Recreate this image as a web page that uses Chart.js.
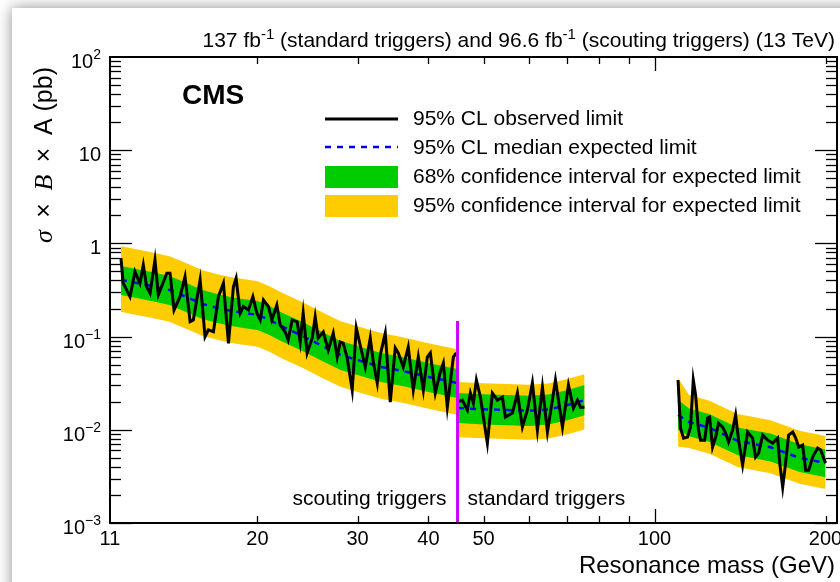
<!DOCTYPE html>
<html><head><meta charset="utf-8">
<script src="https://cdn.jsdelivr.net/npm/chart.js@4.4.1/dist/chart.umd.min.js"></script>
<style>
html,body{margin:0;padding:0;background:#fff;overflow:hidden;width:840px;height:582px;}
#card{position:absolute;left:12px;top:8px;width:900px;height:640px;background:#fff;box-shadow:0 0 14px rgba(0,0,0,0.45);}
#wrap{position:absolute;left:0;top:0;width:840px;height:582px;}
</style></head><body>
<div id="card"></div>
<div id="wrap"><canvas id="c" width="840" height="582"></canvas></div>
<script>
// ---------------- data (mass in GeV, limit in pb) ----------------
// scouting triggers, 11.5 - 45 GeV
const scoutObsMass = [11.5,11.6,11.93,12.17,12.42,12.59,12.76,12.94,13.2,13.38,13.85,14.03,14.26,14.61,14.91,15.22,15.42,15.85,16.17,16.39,16.73,17.07,17.42,17.78,18.14,18.34,18.64,18.89,19.28,19.63,19.95,20.22,20.49,20.91,21.2,21.63,21.93,22.38,22.65,23.02,23.49,23.78,24.07,24.46,24.97,25.27,25.58,26.11,26.64,27.19,27.63,27.97,28.31,28.77,29.36,29.85,30.46,30.96,31.59,31.98,32.5,32.9,33.57,34.26,34.96,35.39,36.11,36.85,37.61,38.38,39.17,39.81,40.3,41.12,41.96,42.48,43.17,44.24,44.78];
const scoutObsLim = [0.693,0.377,0.268,0.498,0.373,0.587,0.343,0.292,0.665,0.28,0.479,0.479,0.193,0.268,0.44,0.145,0.151,0.406,0.0998,0.118,0.113,0.268,0.373,0.0847,0.343,0.423,0.178,0.21,0.193,0.268,0.178,0.151,0.247,0.21,0.151,0.218,0.133,0.112,0.0918,0.151,0.144,0.0875,0.179,0.0667,0.0966,0.163,0.0966,0.112,0.0718,0.109,0.0604,0.0875,0.0853,0.0589,0.0267,0.124,0.0718,0.0471,0.0966,0.0533,0.0318,0.0634,0.109,0.0198,0.0755,0.0667,0.0471,0.0773,0.0267,0.0604,0.0267,0.0604,0.0667,0.0248,0.0417,0.052,0.0175,0.0604,0.0667];
const scoutBandMass = [11.5,12,13,14,15,16,17,18,19,20,21,22,24,26,28,30,33,36,40,44.9];
const scoutExp  = [0.406,0.386,0.349,0.316,0.266,0.224,0.203,0.188,0.179,0.171,0.151,0.13,0.1016,0.0793,0.0635,0.0561,0.0472,0.0428,0.0369,0.0318];
const scout68lo = [0.28,0.266,0.241,0.218,0.183,0.154,0.14,0.13,0.123,0.118,0.104,0.0897,0.0701,0.0547,0.0438,0.0387,0.0326,0.0295,0.0254,0.0219];
const scout68hi = [0.572,0.544,0.492,0.446,0.375,0.316,0.286,0.265,0.252,0.241,0.213,0.183,0.143,0.112,0.0895,0.0791,0.0666,0.0603,0.052,0.0448];
const scout95lo = [0.185,0.175,0.159,0.144,0.121,0.102,0.0923,0.0855,0.0814,0.0777,0.0686,0.0591,0.0462,0.036,0.0289,0.0255,0.0215,0.0195,0.0168,0.0145];
const scout95hi = [0.934,0.888,0.803,0.727,0.612,0.515,0.467,0.432,0.412,0.393,0.347,0.299,0.234,0.182,0.146,0.129,0.109,0.0984,0.0849,0.0731];
// standard triggers, 45 - 75 GeV
const lowObsMass = [45.1,45.88,46.82,47.4,47.98,48.57,49.36,50.78,51.82,52.89,53.97,54.63,56.2,57.36,58.53,59.73,60.95,62.2,63.48,64.78,66.92,68.85,70.54,71.99,73.17,74.06,75.27];
const lowObsLim = [0.0199,0.0208,0.0163,0.0248,0.0194,0.0342,0.0224,0.00719,0.0248,0.0208,0.0224,0.0137,0.0151,0.0248,0.0107,0.0163,0.0318,0.00993,0.0288,0.00944,0.0342,0.0107,0.0302,0.0171,0.0208,0.0175,0.0175];
const lowBandMass = [45.1,50,55,60,65,70,75.3];
const lowExp  = [0.0171,0.0166,0.0163,0.016,0.0165,0.0183,0.0208];
const low68lo = [0.0118,0.0114,0.0112,0.011,0.0114,0.0126,0.0143];
const low68hi = [0.0248,0.0241,0.0236,0.0232,0.0239,0.0265,0.0302];
const low95lo = [0.00834,0.0081,0.00795,0.0078,0.00805,0.00893,0.0101];
const low95hi = [0.0325,0.0315,0.031,0.0304,0.0314,0.0348,0.0395];
// standard triggers, 110 - 200 GeV
const highObsMass = [110,111.1,112.5,114.3,115.7,117,118.1,119.5,120.5,122.5,124,125,126.5,128.1,129.6,131.8,133.4,135,137.2,138.9,140.6,142.9,145.8,148.8,150.6,152.5,155,158.2,161.4,164.7,166.1,168.1,170.1,172.2,175.1,177.2,179.4,182.3,184.5,186.8,189.8,193.7,196.1,200];
const highObsLim = [0.0342,0.0104,0.00814,0.00835,0.0107,0.0342,0.0236,0.00993,0.00774,0.00774,0.0134,0.0137,0.00652,0.00835,0.0118,0.0107,0.0092,0.00738,0.00993,0.0144,0.00774,0.00418,0.00944,0.00814,0.00509,0.00562,0.00877,0.00774,0.00719,0.00814,0.00439,0.00242,0.00439,0.00877,0.00944,0.00814,0.00652,0.00685,0.00369,0.00369,0.00509,0.00637,0.00607,0.00439];
const highBandMass = [110,115,125,140,160,180,200];
const highExp  = [0.0144,0.0121,0.0105,0.0076,0.0065,0.005,0.0044];
const high68lo = [0.0101,0.00852,0.00739,0.00535,0.00458,0.00352,0.0031];
const high68hi = [0.021,0.0169,0.0147,0.0106,0.0091,0.007,0.00616];
const high95lo = [0.0066,0.00637,0.00553,0.004,0.00342,0.00263,0.00232];
const high95hi = [0.036,0.0236,0.0205,0.0148,0.0127,0.00975,0.00858];
// trigger boundary
const boundaryMass = [45, 45];
const boundaryLim = [0.147, 0.001];
// ticks
const xLabelTicks = [11,20,30,40,50,100,200];
const yDecades = [-3,-2,-1,0,1,2];

// ---------------- build ----------------
const YEL = '#ffcc00', GRN = '#00cc00';
const pts = (m, v) => m.map((x, i) => ({x: x, y: v[i]}));
const datasets = [];
function bandPair(m, hi, lo, color, order) {
  datasets.push({data: pts(m, hi), borderWidth: 0, pointRadius: 0, fill: '+1', backgroundColor: color, borderColor: color, order: order, tension: 0});
  datasets.push({data: pts(m, lo), borderWidth: 0, pointRadius: 0, fill: false, borderColor: color, order: order, tension: 0});
}
[[scoutBandMass, scout95hi, scout95lo, scout68hi, scout68lo, scoutExp],
 [lowBandMass, low95hi, low95lo, low68hi, low68lo, lowExp],
 [highBandMass, high95hi, high95lo, high68hi, high68lo, highExp]].forEach(s => {
  bandPair(s[0], s[1], s[2], YEL, 6);
  bandPair(s[0], s[3], s[4], GRN, 5);
  datasets.push({data: pts(s[0], s[5]), borderColor: '#0000ff', borderWidth: 2.5, borderDash: [6, 6], pointRadius: 0, fill: false, order: 3, tension: 0});
});
[[scoutObsMass, scoutObsLim], [lowObsMass, lowObsLim], [highObsMass, highObsLim]].forEach(s => {
  datasets.push({data: pts(s[0], s[1]), borderColor: '#000', borderWidth: 3, pointRadius: 0, fill: false, order: 2, tension: 0, borderJoinStyle: 'miter'});
});
datasets.push({data: pts(boundaryMass, boundaryLim), borderColor: '#cc00ff', borderWidth: 3, pointRadius: 0, fill: false, order: 1});

const FONT = '"Liberation Sans", Arial, Helvetica, sans-serif';
function pieceWidth(ctx, pieces) {
  let w = 0;
  pieces.forEach(p => { ctx.font = p[1]; w += ctx.measureText(p[0]).width; });
  return w;
}
function drawPieces(ctx, pieces, x, y) {
  pieces.forEach(p => { ctx.font = p[1]; ctx.fillText(p[0], x, y + (p[2] || 0)); x += ctx.measureText(p[0]).width; });
}

const deco = {
  id: 'deco',
  afterDatasetsDraw(chart) {
    const ctx = chart.ctx, a = chart.chartArea, xs = chart.scales.x, ys = chart.scales.y;
    ctx.save();
    ctx.strokeStyle = '#000';
    const seg = (x1, y1, x2, y2) => { ctx.beginPath(); ctx.moveTo(x1, y1); ctx.lineTo(x2, y2); ctx.stroke(); };
    ctx.lineWidth = 1.3;
    for (let e = -3; e < 2; e++) {
      for (let k = 1; k < 10; k++) {
        const py = Math.round(ys.getPixelForValue(k * Math.pow(10, e))) + 0.5;
        const len = k === 1 ? 22 : 11;
        seg(a.left, py, a.left + len, py);
        seg(a.right, py, a.right - len, py);
      }
    }
    [20,30,40,50,60,70,80,90,100,200].forEach(v => {
      const px = Math.round(xs.getPixelForValue(v)) + 0.5;
      const len = v === 100 ? 14 : 7;
      seg(px, a.bottom, px, a.bottom - len);
      seg(px, a.top, px, a.top + len);
    });
    ctx.lineWidth = 2;
    ctx.strokeRect(a.left, a.top, a.right - a.left, a.bottom - a.top);
    ctx.restore();
  },
  afterDraw(chart) {
    const ctx = chart.ctx, a = chart.chartArea, xs = chart.scales.x, ys = chart.scales.y;
    ctx.save();
    ctx.fillStyle = '#000';
    const F = s => s + 'px ' + FONT;
    // x tick labels
    ctx.textBaseline = 'top';
    ctx.textAlign = 'center';
    ctx.font = F(20);
    xLabelTicks.forEach(v => ctx.fillText(String(v), xs.getPixelForValue(v), a.bottom + 6));
    // y tick labels
    ctx.textAlign = 'left';
    ctx.textBaseline = 'alphabetic';
    yDecades.forEach(e => {
      const py = ys.getPixelForValue(Math.pow(10, e));
      let pieces;
      if (e === 0) pieces = [['1', F(20)]];
      else if (e === 1) pieces = [['10', F(20)]];
      else pieces = [['10', F(20)], [e < 0 ? '\u2212' + (-e) : String(e), F(14), -9]];
      const w = pieceWidth(ctx, pieces);
      drawPieces(ctx, pieces, 101 - w, py + 11);
    });
    // title
    const tp = [['137 fb', F(21)], ['-1', F(15), -8], [' (standard triggers) and 96.6 fb', F(21)], ['-1', F(15), -8], [' (scouting triggers) (13 TeV)', F(21)]];
    drawPieces(ctx, tp, 835 - pieceWidth(ctx, tp), 47);
    // CMS
    ctx.font = 'bold 28px ' + FONT;
    ctx.fillText('CMS', 182, 104);
    // x title
    ctx.font = F(24);
    ctx.textAlign = 'right';
    ctx.fillText('Resonance mass (GeV)', 835, 573);
    // trigger texts
    ctx.font = F(21);
    const bx = xs.getPixelForValue(45);
    ctx.fillText('scouting triggers', bx - 11, 505);
    ctx.textAlign = 'left';
    ctx.fillText('standard triggers', bx + 10, 505);
    // y title (rotated)
    ctx.save();
    ctx.translate(45, 67);
    ctx.rotate(-Math.PI / 2);
    ctx.textBaseline = 'middle';
    const SER = 'italic 26px "Liberation Serif", serif';
    const yt = [['\u03c3', SER], ['\u2002\u00d7\u2002', F(25)], ['B', SER], ['\u2002\u00d7\u2002A (pb)', F(25)]];
    drawPieces(ctx, yt, -pieceWidth(ctx, yt), 0);
    ctx.restore();
    // legend
    const lx1 = 325, lx2 = 398, tx = 413;
    ctx.lineWidth = 3; ctx.strokeStyle = '#000';
    ctx.beginPath(); ctx.moveTo(lx1, 119); ctx.lineTo(lx2, 119); ctx.stroke();
    ctx.lineWidth = 2.5; ctx.strokeStyle = '#0000ff'; ctx.setLineDash([6, 6]);
    ctx.beginPath(); ctx.moveTo(lx1, 147); ctx.lineTo(lx2, 147); ctx.stroke();
    ctx.setLineDash([]);
    ctx.fillStyle = GRN; ctx.fillRect(lx1, 166, lx2 - lx1, 22);
    ctx.fillStyle = YEL; ctx.fillRect(lx1, 195, lx2 - lx1, 22);
    ctx.fillStyle = '#000';
    ctx.font = F(21);
    ctx.textBaseline = 'middle';
    ctx.fillText('95% CL observed limit', tx, 119);
    ctx.fillText('95% CL median expected limit', tx, 148);
    ctx.fillText('68% confidence interval for expected limit', tx, 177);
    ctx.fillText('95% confidence interval for expected limit', tx, 206);
    ctx.restore();
  }
};

new Chart(document.getElementById('c'), {
  type: 'line',
  data: {datasets: datasets},
  options: {
    responsive: false, animation: false, devicePixelRatio: 1,
    layout: {padding: {left: 110, right: 3, top: 57, bottom: 59}},
    plugins: {legend: {display: false}, tooltip: {enabled: false}, filler: {propagate: false}},
    scales: {
      x: {type: 'logarithmic', min: 11, max: 209.5, display: false},
      y: {type: 'logarithmic', min: 0.001, max: 100, display: false}
    }
  },
  plugins: [deco]
});
</script></body></html>
